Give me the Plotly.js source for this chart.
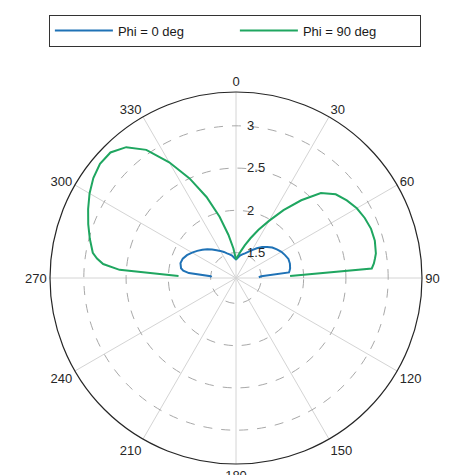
<!DOCTYPE html>
<html>
<head>
<meta charset="utf-8">
<script src="https://cdn.plot.ly/plotly-3.0.1.min.js"></script>
<style>html,body{margin:0;padding:0;background:#fff;}#chart{width:456px;height:475px;}</style>
</head>
<body>
<div id="chart"></div>
<script>
// Elevation angle (deg), shared by both cuts
var thetaDeg = [-88, -86, -84, -82, -80, -75, -70, -65, -60, -55, -50, -45, -40, -35, -30, -25, -20, -15, -10, -5,
                0, 5, 10, 15, 20, 25, 30, 35, 40, 45, 50, 55, 60, 65, 70, 75, 80, 82, 84, 86, 88];
// Phi = 0 deg cut
var phi0 = [1.49, 1.50, 1.76, 1.83, 1.86, 1.88, 1.87, 1.84, 1.80, 1.76, 1.72, 1.68, 1.64, 1.60, 1.57, 1.54, 1.51, 1.49, 1.47, 1.44,
            1.42, 1.44, 1.47, 1.49, 1.51, 1.54, 1.58, 1.63, 1.68, 1.72, 1.76, 1.79, 1.82, 1.84, 1.86, 1.86, 1.85, 1.84, 1.83, 1.50, 1.47];
// Phi = 90 deg cut
var phi90 = [1.88, 2.58, 2.78, 2.86, 2.92, 2.99, 3.06, 3.13, 3.20, 3.26, 3.30, 3.30, 3.22, 3.05, 2.78, 2.50, 2.22, 1.95, 1.72, 1.55,
             1.42, 1.46, 1.52, 1.60, 1.70, 1.83, 1.98, 2.18, 2.40, 2.62, 2.74, 2.80, 2.85, 2.88, 2.90, 2.90, 2.88, 2.86, 2.84, 2.81, 1.84];
var seriesNames = ['Phi = 0 deg', 'Phi = 90 deg'];
var angTicks = [0, 30, 60, 90, 120, 150, 180, 210, 240, 270, 300, 330];
var angLabels = ['0', '30', '60', '90', '120', '150', '180', '210', '240', '270', '300', '330'];
var radTicks = [1.5, 2, 2.5, 3];
var radLabels = ['1.5', '2', '2.5', '3'];

var data = [
  {type: 'scatterpolar', mode: 'lines', r: phi0, theta: thetaDeg, name: seriesNames[0],
   line: {color: '#1f72b6', width: 2}},
  {type: 'scatterpolar', mode: 'lines', r: phi90, theta: thetaDeg, name: seriesNames[1],
   line: {color: '#1fa660', width: 2}}
];

var layout = {
  width: 456, height: 475,
  margin: {l: 50, r: 34, t: 92, b: 11},
  paper_bgcolor: '#fff',
  font: {family: 'Liberation Sans, Arial, sans-serif', size: 13, color: '#262626'},
  showlegend: true,
  legend: {
    orientation: 'h', x: 0.497, xanchor: 'center', y: 1.208, yanchor: 'top',
    bordercolor: '#333', borderwidth: 1, bgcolor: '#fff',
    itemwidth: 58, entrywidth: 112, font: {size: 13, color: '#1a1a1a'}
  },
  polar: {
    domain: {x: [0, 1], y: [0, 1]},
    bgcolor: '#fff',
    angularaxis: {
      direction: 'clockwise', rotation: 90,
      tickmode: 'array', tickvals: angTicks, ticktext: angLabels,
      ticks: '', showline: true, linecolor: '#262626', linewidth: 1.2,
      gridcolor: '#d4d4d4', gridwidth: 1,
      tickfont: {size: 13, color: '#262626'}
    },
    radialaxis: {
      range: [1.2, 3.4], angle: 90, tickangle: 90, side: 'clockwise',
      tickmode: 'array', tickvals: radTicks, ticktext: radLabels,
      ticks: 'outside', ticklen: 8, tickcolor: 'rgba(0,0,0,0)', showline: false,
      gridcolor: '#a8a8a8', gridwidth: 1, griddash: 'dash',
      tickfont: {size: 13, color: '#262626'}
    }
  }
};

Plotly.newPlot('chart', data, layout, {displayModeBar: false, staticPlot: true});
</script>
</body>
</html>
